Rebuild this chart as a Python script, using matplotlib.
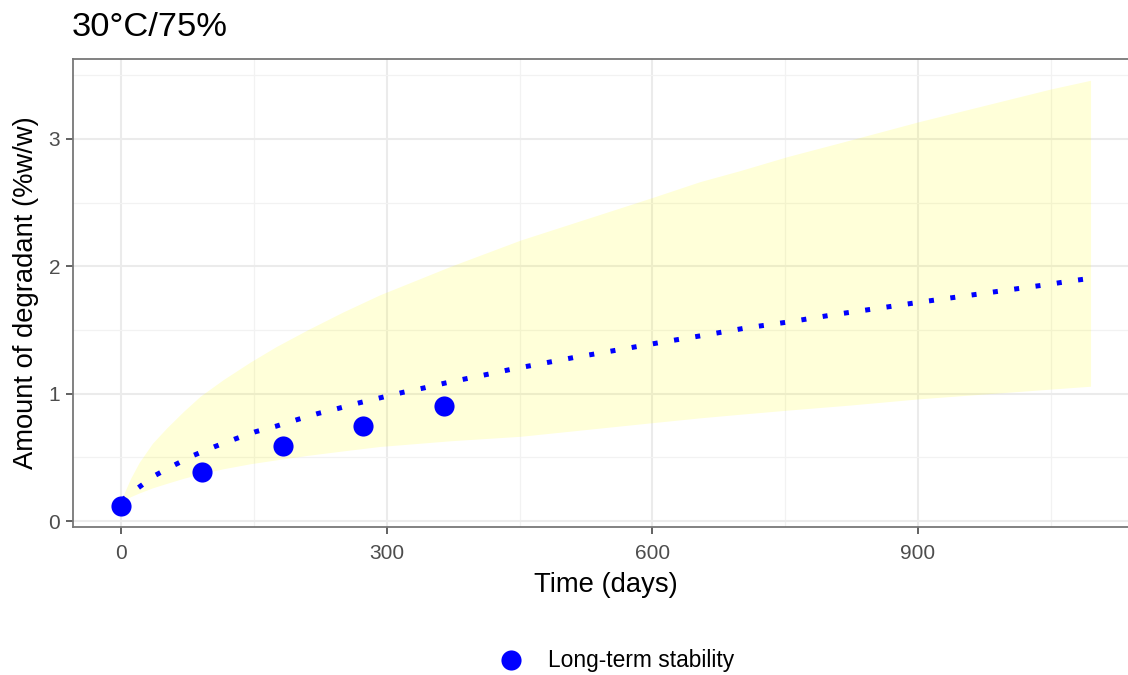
import numpy as np
import matplotlib
matplotlib.use("Agg")
import matplotlib.pyplot as plt
from matplotlib.ticker import MultipleLocator

plt.rcParams["font.family"] = ["Liberation Sans", "DejaVu Sans"]

# observed long-term stability points
obs_days = [0, 91, 182, 273, 365]
obs_vals = [0.12, 0.385, 0.59, 0.745, 0.90]

# fitted (dotted) line
fit_days = [0, 18, 38, 60, 82, 105, 128, 151, 175, 199, 222, 246, 270, 294,
            318, 342, 367, 416, 439, 513, 537, 610, 658, 706, 756, 805, 854,
            903, 952, 1050, 1074, 1095]
fit_vals = [0.16, 0.256, 0.358, 0.44, 0.517, 0.583, 0.643, 0.70, 0.745, 0.797,
            0.844, 0.886, 0.93, 0.97, 1.01, 1.045, 1.085, 1.155, 1.189, 1.286,
            1.314, 1.403, 1.458, 1.516, 1.565, 1.62, 1.669, 1.719, 1.766, 1.86,
            1.886, 1.905]

# prediction band
band_days = [0, 5, 10, 20, 35, 51, 70, 89, 115, 146, 175, 210, 250, 292, 372,
             451, 600, 654, 699, 752, 823, 901, 1049, 1095]
band_upper = [0.17, 0.25, 0.33, 0.46, 0.61, 0.73, 0.86, 0.98, 1.11, 1.25,
              1.37, 1.50, 1.64, 1.776, 2.0, 2.206, 2.54, 2.665, 2.751, 2.86,
              2.99, 3.135, 3.39, 3.46]
band_lower = [0.15, 0.17, 0.19, 0.22, 0.26, 0.295, 0.335, 0.37, 0.41, 0.45,
              0.48, 0.515, 0.55, 0.585, 0.63, 0.665, 0.772, 0.81, 0.838, 0.87,
              0.91, 0.959, 1.035, 1.058]

title = "30\u00b0C/75%"
xlabel = "Time (days)"
ylabel = "Amount of degradant (%w/w)"
legend_label = "Long-term stability"

W, H = 1128, 675
fig = plt.figure(figsize=(W / 100, H / 100), dpi=100)
left, right, top, bottom = 73, 1139, 59, 527
ax = fig.add_axes([left / W, 1 - bottom / H, (right - left) / W, (bottom - top) / H])

ax.fill_between(band_days, band_lower, band_upper, color="yellow", alpha=0.15,
                linewidth=0, zorder=2)
ax.plot(fit_days, fit_vals, color="blue", lw=3.6, linestyle=(0, (1, 3.3)),
        solid_capstyle="butt", zorder=3)
ax.plot(obs_days, obs_vals, "o", color="blue", ms=14.5, mec="none", zorder=4,
        label=legend_label)

# ggplot-style 5% expansion
xmin, xmax = 0, max(band_days)
ymin = min(min(band_lower), min(obs_vals))
ymax = max(band_upper)
dx, dy = (xmax - xmin) * 0.05, (ymax - ymin) * 0.05
ax.set_xlim(xmin - dx, xmax + dx)
ax.set_ylim(ymin - dy, ymax + dy)

ax.xaxis.set_major_locator(MultipleLocator(300))
ax.xaxis.set_minor_locator(MultipleLocator(150))
ax.yaxis.set_major_locator(MultipleLocator(1))
ax.yaxis.set_minor_locator(MultipleLocator(0.5))
ax.grid(True, which="major", color="#EBEBEB", lw=1.5, zorder=0)
ax.grid(True, which="minor", color="#F2F2F2", lw=0.9, zorder=0)
ax.set_axisbelow(True)

for s in ax.spines.values():
    s.set_color("#777777")
    s.set_linewidth(1.3)
ax.tick_params(which="major", direction="out", length=5, width=1.3,
               color="#555555", labelcolor="#4D4D4D", labelsize=15)
ax.tick_params(axis="y", pad=4.3)
ax.tick_params(axis="x", pad=7)
ax.tick_params(which="minor", length=0)

ax.set_xlabel(xlabel, fontsize=19.7, color="black", labelpad=7)
ax.set_ylabel(ylabel, fontsize=19.7, color="black", labelpad=7)
fig.text(72 / W, 1 - 36 / H, title, fontsize=24.8, ha="left", va="baseline")

leg = fig.legend(loc="center left", bbox_to_anchor=(499.5 / W, 1 - 661 / H),
                 frameon=False, fontsize=16.4, handlelength=1.0,
                 handletextpad=1.12, borderpad=0, borderaxespad=0)

fig.savefig("out.png", dpi=100)
